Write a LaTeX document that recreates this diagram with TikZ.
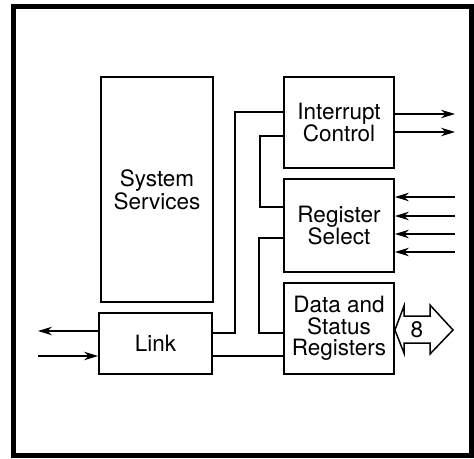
\documentclass[tikz,border=0pt]{standalone}
\usepackage{fontspec}
\setmainfont{TeX Gyre Heros}
\usetikzlibrary{arrows.meta}
\begin{document}
\begin{tikzpicture}[x=1pt,y=-1pt,
  blk/.style={draw,line width=1.8pt,minimum width=110pt,align=center,inner sep=0pt,
    font=\fontsize{22.5}{21.5}\selectfont},
  wire/.style={line width=1.5pt},
  sig/.style={line width=1.5pt,-{Stealth[length=14pt,width=8.5pt]}}]
\useasboundingbox (0,0) rectangle (474,458);
\draw[line width=5pt] (13.5,6.5) rectangle (471.5,455.5);
% blocks
\node[blk,minimum width=112pt,minimum height=225pt] (sys) at (157,189.5) {System\\Services};
\node[blk,minimum width=113pt,minimum height=61pt] (link) at (155.5,343.5) {Link};
\node[blk,minimum height=91pt] (ic) at (339,122.5) {Interrupt\\Control};
\node[blk,minimum height=93pt] (rs) at (339,225.5) {Register\\Select};
\node[blk,minimum height=91pt] (ds) at (339,328.5) {Data and\\Status\\Registers};
% internal wiring
\draw[wire] (link.east |- 0,333) -- (235,333) -- (235,112) -- (ic.west |- 0,112);
\draw[wire] (ic.west |- 0,136) -- (260,136) -- (260,207) -- (rs.west |- 0,207);
\draw[wire] (rs.west |- 0,238) -- (259,238) -- (259,333) -- (ds.west |- 0,333);
\draw[wire] (link.east |- 0,356) -- (ds.west |- 0,356);
% link external
\coordinate (lo) at (38,331);
\coordinate (li) at (38,356);
\draw[sig] (link.west |- lo) -- (lo);
\draw[sig] (li) -- (link.west |- li);
% interrupt outputs
\coordinate (io1) at (455,114);
\coordinate (io2) at (455,132);
\draw[sig] (ic.east |- io1) -- (io1);
\draw[sig] (ic.east |- io2) -- (io2);
% register select inputs
\foreach \y [count=\i] in {197,216,234,252}{
  \coordinate (ri\i) at (455,\y);
  \draw[sig] (ri\i) -- (rs.east |- ri\i);
}
% 8-bit data bus
\draw[line width=1.5pt,line join=miter] (ds.east |- 0,330) -- (404,306) -- (404,316) -- (430,316) -- (430,305)
  -- (453,330) -- (430,354) -- (430,343) -- (404,343) -- (404,353) -- cycle;
\node[font=\fontsize{22.5}{21.5}\selectfont,inner sep=0pt] (bus) at (417,330) {8};
\end{tikzpicture}
\end{document}
